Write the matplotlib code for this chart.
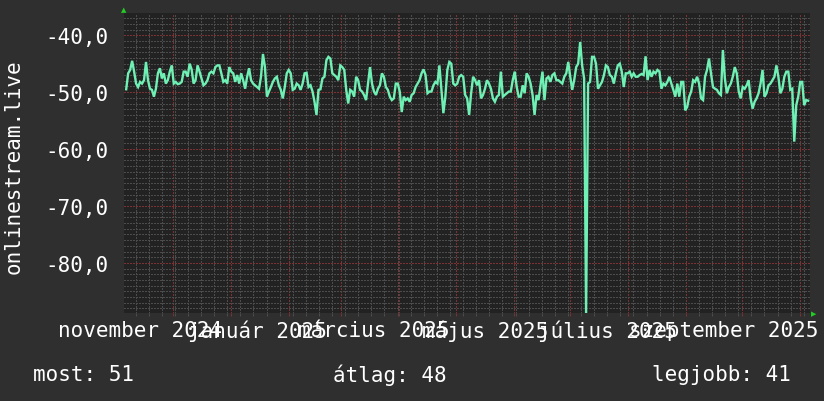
import matplotlib
matplotlib.use("Agg")
import matplotlib.pyplot as plt
import matplotlib.dates as mdates
import matplotlib.transforms as mtransforms
from matplotlib.ticker import MultipleLocator, FixedLocator
import numpy as np
import pandas as pd

# daily readings (negative values as stored by the rrd), Nov 2024 -> Nov 2025
values = [
    -49.5, -46.7, -46.1, -44.5, -46.4, -48.5, -49.1, -48.2, -48.5, -47.9, -44.7, -47.9, -49.4, -49.6,
    -50.8, -49.4, -46.7, -45.8, -47.6, -46.7, -48.5, -47.9, -46.4, -45.3, -48.5, -48.2, -48.6, -48.5,
    -48.2, -46.4, -46.4, -47.3, -45.0, -46.0, -48.5, -47.9, -45.3, -46.4, -47.6, -48.8, -48.5, -47.9,
    -46.7, -46.4, -46.7, -45.6, -45.3, -45.3, -46.7, -48.2, -47.9, -48.5, -45.6, -46.4, -46.7, -48.2,
    -47.0, -48.5, -46.7, -47.9, -49.4, -47.3, -45.8, -47.9, -48.5, -48.8, -49.1, -49.4, -47.3, -43.3,
    -45.6, -50.8, -49.9, -49.1, -48.2, -47.6, -47.3, -48.8, -49.6, -51.1, -49.1, -46.7, -46.1, -46.7,
    -49.6,
    -49.4, -48.5, -48.8, -49.6, -48.5, -46.7, -46.6, -49.1, -48.8, -49.9, -51.7, -54.0, -49.6, -49.5,
    -47.6, -47.3, -44.4, -43.8, -44.1, -46.7, -47.0, -47.3, -47.9, -45.3, -45.6, -46.1, -49.6, -52.0,
    -49.6, -49.9, -50.8, -47.3, -47.9, -49.6, -49.9, -50.5, -51.4, -48.5, -45.6, -48.5, -49.9, -50.5,
    -49.4, -48.8, -46.7, -47.3, -49.1, -49.6, -50.8, -51.4, -51.1, -48.5, -48.5, -49.9, -53.5, -50.8,
    -51.4, -51.1, -51.7, -50.5, -50.2, -49.1, -48.5, -47.9, -46.7, -46.0, -47.0, -50.2, -49.9, -49.9,
    -48.8, -48.2, -48.5, -45.3, -49.6, -53.7, -50.8, -46.1, -44.7, -45.0, -48.5, -48.8, -48.5, -47.3,
    -47.0, -47.3, -50.5, -51.1, -54.0, -50.2, -47.3, -47.9, -48.8, -47.9, -51.1, -50.5, -49.4, -47.9,
    -48.5, -49.4, -51.1, -51.7, -50.8, -50.5, -46.4, -50.8, -50.5, -50.2, -49.9, -49.9, -47.9, -46.4,
    -49.1, -50.8, -50.8, -48.8, -50.2, -46.7, -47.3, -48.5, -50.5, -54.0, -50.5, -51.4, -48.8, -46.4,
    -51.4, -47.6, -47.3, -48.2, -47.0, -46.7, -47.9, -47.9, -48.2, -48.5, -47.3, -46.7, -44.7, -47.3,
    -49.6, -47.9, -45.6, -45.0, -41.2, -45.3, -47.6, -88.8, -48.5, -48.2, -43.8, -43.8, -45.0, -49.4,
    -48.8, -48.2, -47.0, -45.3, -45.6, -47.0, -47.3, -48.5, -46.7, -45.3, -45.0, -46.4, -49.1, -46.7,
    -46.7, -46.4, -47.3, -46.7, -47.3,
    -47.3, -47.0, -46.8, -47.0, -43.7, -47.9, -46.1, -47.3, -46.4, -46.7, -46.1, -46.4, -49.4, -48.5,
    -48.8, -48.2, -47.3, -48.5, -49.6, -50.8, -48.5, -50.8, -48.2, -48.2, -53.2, -52.6, -50.8, -49.9,
    -47.9, -48.2, -47.3, -48.5, -51.1, -51.4, -47.3, -46.1, -44.1, -46.7, -49.1, -49.4, -49.6, -50.2,
    -50.5, -42.6, -47.6, -50.2, -49.1, -48.5, -47.3, -45.6, -46.7, -49.9, -51.1, -49.1, -49.4, -48.8,
    -47.9, -51.1, -52.9, -51.7, -51.1, -50.2, -48.5, -46.1, -50.8, -50.2, -48.8, -48.5, -47.9, -47.3,
    -45.3, -47.3, -50.2, -49.4, -47.3, -46.4, -46.4, -49.6, -49.4, -58.7, -52.3, -50.8, -48.2, -48.2,
    -52.3, -51.4, -51.5,
]
first_time = "2024-11-06 00:00"
last_time = "2025-11-05 08:00"
times = pd.date_range(first_time, last_time, periods=len(values))

y_ticks = [-80, -70, -60, -50, -40]
y_tick_labels = ["-80,0", "-70,0", "-60,0", "-50,0", "-40,0"]
month_labels = ["november 2024", "január 2025", "március 2025",
                "május 2025", "július 2025", "szeptember 2025"]
month_label_dates = pd.to_datetime(["2024-11-13 10:00", "2025-01-15 00:00", "2025-03-18 06:00",
                                    "2025-05-17 00:00", "2025-07-21 00:00", "2025-09-21 00:00"])
legend_items = ["most: 51", "átlag: 48", "legjobb: 41"]
y_title = "onlinestream.live"

BG = "#2f2f2f"
PLOT_BG = "#222222"
MINOR = "#4c4c4c"
MAJOR = "#7a3232"
LINE = "#6ff0b4"
ARROW = "#22cc22"
FONT = "DejaVu Sans Mono"
FS = 15

# crisp pixel grid like rrdtool; the data line turns antialiasing back on
plt.rcParams["lines.antialiased"] = False

W, H = 824, 402
fig = plt.figure(figsize=(W / 100, H / 100), dpi=100, facecolor=BG)
ax = fig.add_axes([124 / W, (H - 314) / H, (810 - 124) / W, 300 / H])
ax.set_facecolor(PLOT_BG)

ax.set_xlim(pd.Timestamp("2024-11-04 20:00"), pd.Timestamp("2025-11-06 08:00"))
ax.set_ylim(-88.8, -36.1)

ax.xaxis.set_major_locator(mdates.MonthLocator())
ax.xaxis.set_minor_locator(mdates.WeekdayLocator(byweekday=mdates.MO))
ax.yaxis.set_major_locator(FixedLocator(y_ticks))
ax.yaxis.set_minor_locator(MultipleLocator(1))
ax.set_yticklabels(y_tick_labels)

ax.grid(which="minor", color=MINOR, linestyle=(0, (1.4, 1.4)), linewidth=0.72)
ax.grid(which="major", color=MAJOR, linestyle=(0, (1.4, 1.4)), linewidth=0.72)
ax.set_axisbelow(True)

ax.tick_params(axis="x", which="major", length=2.5, width=0.72, color=MAJOR, labelbottom=False)
ax.tick_params(axis="x", which="minor", length=2.5, width=0.72, color=MINOR)
ax.tick_params(axis="y", which="both", length=0, pad=11.5, labelcolor="white", labelsize=FS)
for lab in ax.get_yticklabels():
    lab.set_fontfamily(FONT)
for s in ax.spines.values():
    s.set_visible(False)

ax.plot(times, values, color=LINE, linewidth=1.7, solid_joinstyle="miter", antialiased=True)

# month labels under the axis
trans = mtransforms.blended_transform_factory(ax.transData, fig.transFigure)
for d, lab in zip(month_label_dates, month_labels):
    ax.text(d, 1 - 331 / H, lab, transform=trans, ha="center", va="center",
            color="white", fontsize=FS, family=FONT, clip_on=False)

# axis arrows
fig.text(124 / W, 1 - 10 / H, "▲", color=ARROW, fontsize=5, ha="center", va="center", family="DejaVu Sans")
fig.text(814 / W, 1 - 314 / H, "▶", color=ARROW, fontsize=5, ha="center", va="center", family="DejaVu Sans")

fig.text(14 / W, 1 - 167 / H, y_title, rotation=90, ha="center", va="center",
         color="white", fontsize=FS, family=FONT)

for xpos, txt in zip([33, 333, 652], legend_items):
    fig.text(xpos / W, 1 - 375 / H, txt, ha="left", va="center",
             color="white", fontsize=FS, family=FONT)

fig.savefig("out.png", dpi=100, facecolor=BG)
